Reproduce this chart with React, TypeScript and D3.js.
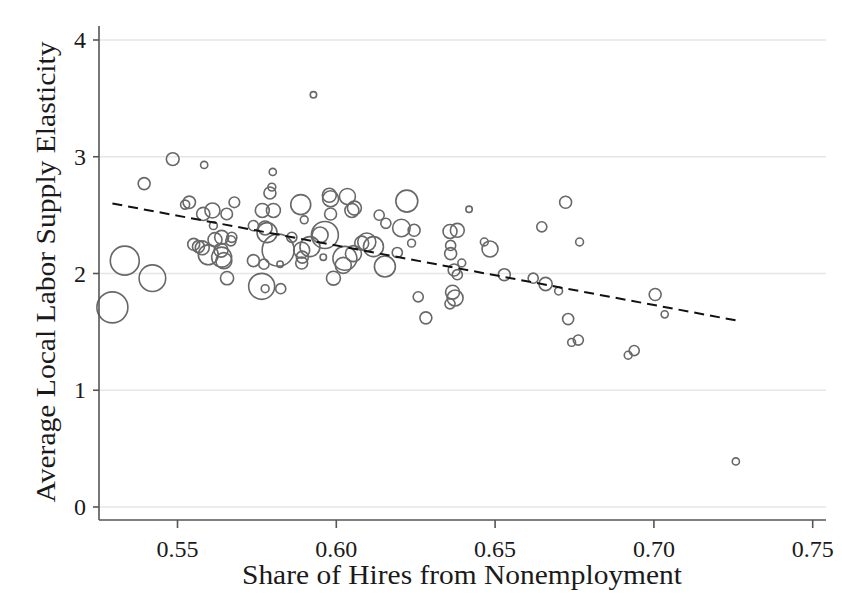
import React from "react";
import * as d3 from "d3";

// share of hires from nonemployment (x), avg local labor supply elasticity (y), weight (marker size)
const share = [
  0.5295, 0.5334, 0.5421, 0.5485, 0.5584, 0.5395, 0.5537, 0.5524, 0.5581, 0.561,
  0.5655, 0.5679, 0.5613, 0.5551, 0.5566, 0.5597, 0.5639, 0.5639, 0.5671, 0.5618,
  0.5656, 0.5668, 0.5578, 0.5646, 0.5637, 0.58, 0.5797, 0.5791, 0.5767, 0.5802,
  0.5888, 0.5899, 0.5978, 0.5982, 0.6035, 0.6049, 0.6057, 0.5982, 0.6135, 0.6156,
  0.6222, 0.6205, 0.6245, 0.6237, 0.6192, 0.6153, 0.6258, 0.6282, 0.6418, 0.6358,
  0.6381, 0.636, 0.636, 0.6395, 0.6371, 0.6381, 0.6366, 0.6374, 0.6358, 0.6466,
  0.6484, 0.6529, 0.6722, 0.6647, 0.6766, 0.662, 0.6659, 0.67, 0.7004, 0.7034,
  0.673, 0.6741, 0.6762, 0.6919, 0.6938, 0.5928, 0.7258, 0.5739, 0.5776, 0.5782,
  0.5817, 0.5739, 0.5772, 0.5823, 0.5765, 0.5776, 0.5825, 0.586, 0.5891, 0.5893,
  0.5891, 0.5917, 0.5964, 0.5949, 0.5959, 0.5991, 0.6027, 0.6022, 0.6054, 0.608,
  0.6096, 0.6117,
];
const elasticity = [
  1.71, 2.11, 1.96, 2.98, 2.93, 2.77, 2.61, 2.59, 2.51, 2.54,
  2.51, 2.61, 2.41, 2.25, 2.23, 2.16, 2.14, 2.31, 2.31, 2.29,
  1.96, 2.28, 2.22, 2.11, 2.2, 2.87, 2.74, 2.69, 2.54, 2.54,
  2.59, 2.46, 2.67, 2.64, 2.66, 2.54, 2.56, 2.51, 2.5, 2.43,
  2.62, 2.39, 2.37, 2.26, 2.18, 2.06, 1.8, 1.62, 2.55, 2.36,
  2.37, 2.24, 2.17, 2.09, 2.03, 1.99, 1.84, 1.79, 1.74, 2.27,
  2.21, 1.99, 2.61, 2.4, 2.27, 1.96, 1.91, 1.85, 1.82, 1.65,
  1.61, 1.41, 1.43, 1.3, 1.34, 3.53, 0.39, 2.41, 2.39, 2.35,
  2.2, 2.11, 2.08, 2.08, 1.89, 1.87, 1.87, 2.31, 2.2, 2.14,
  2.09, 2.23, 2.33, 2.33, 2.14, 1.96, 2.13, 2.07, 2.17, 2.26,
  2.27, 2.23,
];
const weight = [
  94, 82, 69, 16, 5, 14, 15, 8, 17, 22,
  13, 11, 6, 14, 14, 39, 39, 19, 10, 19,
  17, 10, 19, 25, 19, 5, 6, 14, 19, 19,
  39, 6, 19, 25, 25, 19, 19, 14, 10, 10,
  47, 30, 14, 6, 10, 43, 10, 14, 4, 19,
  19, 10, 14, 6, 14, 10, 19, 25, 10, 6,
  25, 14, 14, 10, 6, 10, 17, 6, 14, 5,
  12, 6, 10, 6, 10, 4, 5, 10, 19, 39,
  100, 14, 10, 4, 66, 6, 10, 10, 25, 14,
  14, 39, 71, 25, 4, 19, 56, 25, 25, 19,
  32, 39,
];

// fitted line: elasticity = intercept + slope * share
const fitIntercept = 5.3;
const fitSlope = -5.1;

const xTicks = [0.55, 0.6, 0.65, 0.7, 0.75];
const yTicks = [0, 1, 2, 3, 4];

class ElasticityScatter extends React.Component {
  ref: any;
  constructor(props: any) {
    super(props);
    this.ref = React.createRef();
    this.draw = this.draw.bind(this);
  }

  componentDidMount() {
    this.draw();
  }

  draw() {
    var width = 842,
      height = 613;
    var left = 99,
      right = 826,
      top = 26,
      bottom = 520;
    var font = "'Liberation Serif', 'Times New Roman', serif";

    var svg = d3
      .select(this.ref.current)
      .attr("width", width)
      .attr("height", height)
      .style("position", "absolute")
      .style("left", "0px")
      .style("top", "0px")
      .style("background", "#fff");
    svg.selectAll("*").remove();

    var x = d3.scaleLinear().domain([0.55, 0.75]).range([177.5, 812.7]);
    var y = d3.scaleLinear().domain([0, 4]).range([507, 40]);
    var r = d3
      .scaleSqrt()
      .domain([0, d3.max(weight) as number])
      .range([0, 16]);

    // gridlines
    svg
      .selectAll("grid")
      .data(yTicks)
      .enter()
      .append("line")
      .attr("x1", left + 1)
      .attr("x2", right)
      .attr("y1", (d) => y(d))
      .attr("y2", (d) => y(d))
      .attr("stroke", "#e6e6e6")
      .attr("stroke-width", 1.6);

    // markers
    var pts = share.map((s, i) => ({ s: s, e: elasticity[i], w: weight[i] }));
    svg
      .selectAll("pts")
      .data(pts)
      .enter()
      .append("circle")
      .attr("cx", (d) => x(d.s))
      .attr("cy", (d) => y(d.e))
      .attr("r", (d) => r(d.w))
      .attr("fill", "none")
      .attr("stroke", "#686868")
      .attr("stroke-width", 1.6);

    // fitted line
    var ext = d3.extent(share) as [number, number];
    var line = d3
      .line<number>()
      .x((d) => x(d))
      .y((d) => y(fitIntercept + fitSlope * d));
    svg
      .append("path")
      .attr("d", line(ext))
      .attr("fill", "none")
      .attr("stroke", "#111")
      .attr("stroke-width", 2)
      .attr("stroke-dasharray", "10,6");

    // axes
    var axisColor = "#555";
    svg
      .append("line")
      .attr("x1", left)
      .attr("x2", left)
      .attr("y1", top)
      .attr("y2", bottom)
      .attr("stroke", axisColor)
      .attr("stroke-width", 1.6);
    svg
      .append("line")
      .attr("x1", left)
      .attr("x2", right)
      .attr("y1", bottom)
      .attr("y2", bottom)
      .attr("stroke", axisColor)
      .attr("stroke-width", 1.6);

    svg
      .selectAll("yt")
      .data(yTicks)
      .enter()
      .append("line")
      .attr("x1", left - 6)
      .attr("x2", left)
      .attr("y1", (d) => y(d))
      .attr("y2", (d) => y(d))
      .attr("stroke", axisColor)
      .attr("stroke-width", 1.6);
    svg
      .selectAll("ytl")
      .data(yTicks)
      .enter()
      .append("text")
      .attr("x", 86)
      .attr("y", (d) => y(d) + 8)
      .attr("text-anchor", "end")
      .style("font-family", font)
      .style("font-size", "24px")
      .attr("fill", "#1a1a1a")
      .text((d) => String(d));

    svg
      .selectAll("xt")
      .data(xTicks)
      .enter()
      .append("line")
      .attr("x1", (d) => x(d))
      .attr("x2", (d) => x(d))
      .attr("y1", bottom)
      .attr("y2", bottom + 8)
      .attr("stroke", axisColor)
      .attr("stroke-width", 1.6);
    svg
      .selectAll("xtl")
      .data(xTicks)
      .enter()
      .append("text")
      .attr("x", (d) => x(d))
      .attr("y", 557)
      .attr("text-anchor", "middle")
      .style("font-family", font)
      .style("font-size", "24px")
      .attr("fill", "#1a1a1a")
      .text((d) => d3.format(".2f")(d));

    // titles
    svg
      .append("text")
      .attr("x", 462)
      .attr("y", 584)
      .attr("text-anchor", "middle")
      .attr("textLength", 440)
      .attr("lengthAdjust", "spacingAndGlyphs")
      .style("font-family", font)
      .style("font-size", "27px")
      .attr("fill", "#1a1a1a")
      .text("Share of Hires from Nonemployment");

    svg
      .append("text")
      .attr("transform", "translate(55,272) rotate(-90)")
      .attr("text-anchor", "middle")
      .attr("textLength", 461)
      .attr("lengthAdjust", "spacingAndGlyphs")
      .style("font-family", font)
      .style("font-size", "27px")
      .attr("fill", "#1a1a1a")
      .text("Average Local Labor Supply Elasticity");
  }

  render() {
    return <svg ref={this.ref}></svg>;
  }
}

export default function App() {
  return <ElasticityScatter />;
}
